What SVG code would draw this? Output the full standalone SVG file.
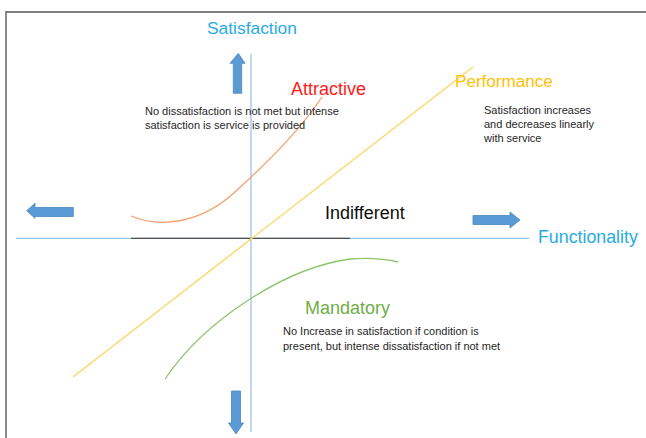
<svg xmlns="http://www.w3.org/2000/svg" width="646" height="438" viewBox="0 0 646 438">
  <style>
    text { font-family: "Liberation Sans", Arial, sans-serif; }
    .title { font-size: 18px; }
    .note { font-size: 11px; fill: #262626; }
    .axis-label { fill: #29abe2; }
    .blockarrow { fill: #5b9bd5; stroke: #4a86c0; stroke-width: 0.8; }
    .curve { fill: none; stroke-width: 1.3; }
  </style>

  <rect width="646" height="438" fill="#ffffff"/>

  <!-- page frame -->
  <path d="M6,438 V12 H646" fill="none" stroke="#7f7f7f" stroke-width="1.8"/>

  <!-- axes and connectors -->
  <g id="connectors">
    <line x1="16" y1="238.3" x2="529" y2="238.3" stroke="#9dc3e6" stroke-width="1.3"/>
    <line x1="131" y1="238.3" x2="350" y2="238.3" stroke="#4d4d4d" stroke-width="1.3"/>
    <line x1="251" y1="54" x2="251" y2="432" stroke="#9dc3e6" stroke-width="1.3"/>

    <!-- Performance: linear -->
    <line x1="73" y1="377" x2="473" y2="67" class="curve" stroke="#ffd45c"/>
    <!-- Attractive -->
    <path d="M131,216 C160,228 200,224 235,192 S300,130 322,97" class="curve" stroke="#f4a06c"/>
    <!-- Mandatory -->
    <path d="M165,379 C205,320 285,268 350,259 C375,257 390,260 398,262" class="curve" stroke="#8cc46a"/>

    <!-- block arrows -->
    <path class="blockarrow" d="M238.3,53.3 L245,63.3 L241.7,63.3 L241.7,93.3 L233.3,93.3 L233.3,63.3 L230,63.3 Z"/>
    <path class="blockarrow" d="M26.7,210.7 L35,203.3 L35,207.5 L73.3,207.5 L73.3,216.5 L35,216.5 L35,218.3 Z"/>
    <path class="blockarrow" d="M520,220 L510,212 L510,215.5 L473,215.5 L473,224.5 L510,224.5 L510,228 Z"/>
    <path class="blockarrow" d="M236,434 L228.5,423 L231.5,423 L231.5,391 L240.5,391 L240.5,423 L243.5,423 Z"/>
  </g>

  <g id="satisfaction">
    <text x="207" y="34" class="axis-label" style="font-size:17.4px">Satisfaction</text>
  </g>

  <g id="functionality">
    <text x="538" y="243" class="axis-label" style="font-size:17.8px">Functionality</text>
  </g>

  <g id="attractive">
    <text x="291" y="95" class="title" fill="#ff1a1a">Attractive</text>
    <text class="note"><tspan x="145" y="115">No dissatisfaction is not met but intense</tspan><tspan x="145" y="129">satisfaction is service is provided</tspan></text>
  </g>

  <g id="performance">
    <text x="455" y="87" class="title" style="font-size:17.1px" fill="#ffc000">Performance</text>
    <text class="note"><tspan x="484" y="114">Satisfaction increases</tspan><tspan x="484" y="128">and decreases linearly</tspan><tspan x="484" y="142">with service</tspan></text>
  </g>

  <g id="indifferent">
    <text x="325" y="219" class="title" fill="#0d0d0d">Indifferent</text>
  </g>

  <g id="mandatory">
    <text x="305" y="314" class="title" fill="#70ad47">Mandatory</text>
    <text class="note"><tspan x="283" y="335">No Increase in satisfaction if condition is</tspan><tspan x="283" y="350">present, but intense dissatisfaction if not met</tspan></text>
  </g>
</svg>
